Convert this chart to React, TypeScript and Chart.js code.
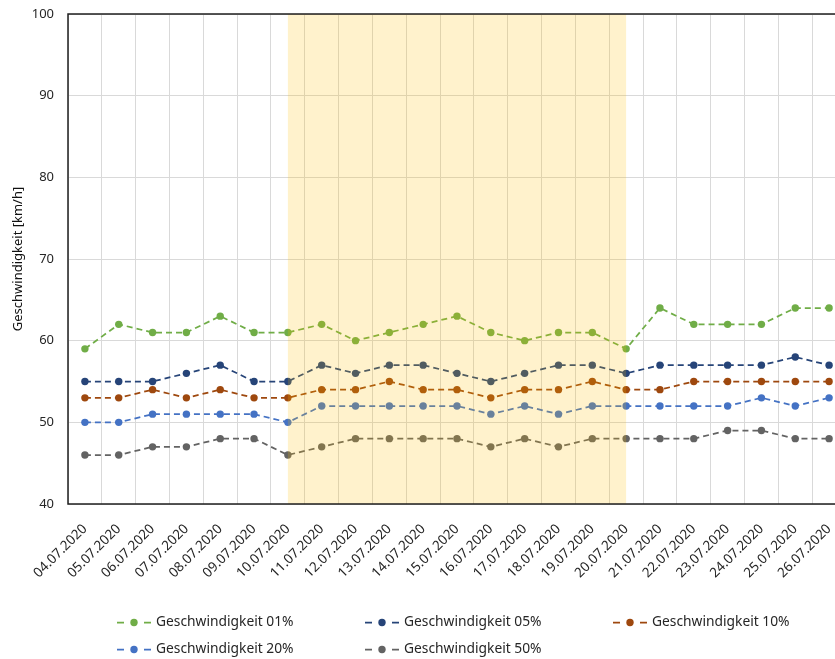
import React, { useEffect, useRef } from "react";
import { Chart, registerables } from "chart.js";

Chart.register(...registerables);

const categories = [
  "04.07.2020", "05.07.2020", "06.07.2020", "07.07.2020", "08.07.2020", "09.07.2020",
  "10.07.2020", "11.07.2020", "12.07.2020", "13.07.2020", "14.07.2020", "15.07.2020",
  "16.07.2020", "17.07.2020", "18.07.2020", "19.07.2020", "20.07.2020", "21.07.2020",
  "22.07.2020", "23.07.2020", "24.07.2020", "25.07.2020", "26.07.2020",
];

const speed01 = [59, 62, 61, 61, 63, 61, 61, 62, 60, 61, 62, 63, 61, 60, 61, 61, 59, 64, 62, 62, 62, 64, 64];
const speed05 = [55, 55, 55, 56, 57, 55, 55, 57, 56, 57, 57, 56, 55, 56, 57, 57, 56, 57, 57, 57, 57, 58, 57];
const speed10 = [53, 53, 54, 53, 54, 53, 53, 54, 54, 55, 54, 54, 53, 54, 54, 55, 54, 54, 55, 55, 55, 55, 55];
const speed20 = [50, 50, 51, 51, 51, 51, 50, 52, 52, 52, 52, 52, 51, 52, 51, 52, 52, 52, 52, 52, 53, 52, 53];
const speed50 = [46, 46, 47, 47, 48, 48, 46, 47, 48, 48, 48, 48, 47, 48, 47, 48, 48, 48, 48, 49, 49, 48, 48];

const seriesNames = [
  "Geschwindigkeit 01%",
  "Geschwindigkeit 05%",
  "Geschwindigkeit 10%",
  "Geschwindigkeit 20%",
  "Geschwindigkeit 50%",
];
const seriesColors = ["#70AD47", "#264478", "#9E480E", "#4472C4", "#636363"];
const seriesValues = [speed01, speed05, speed10, speed20, speed50];

const shadeFrom = "10.07.2020";
const shadeTo = "20.07.2020";

const yMin = 40;
const yMax = 100;
const yStep = 10;
const yTitle = "Geschwindigkeit [km/h]";

const FONT = "'Noto Sans', 'Open Sans', sans-serif";
const TEXT = "#262626";

const overlayPlugin = {
  id: "overlayFrameLegend",
  afterDatasetsDraw(chart: any) {
    const { ctx, chartArea: a, scales } = chart;
    const x = scales.x;
    const x0 = x.getPixelForValue(categories.indexOf(shadeFrom));
    const x1 = x.getPixelForValue(categories.indexOf(shadeTo));
    ctx.save();
    ctx.fillStyle = "rgba(255,192,0,0.2)";
    ctx.fillRect(x0, a.top, x1 - x0, a.bottom - a.top);
    ctx.strokeStyle = "#1f1f1f";
    ctx.lineWidth = 1.5;
    ctx.beginPath();
    ctx.moveTo(a.right, a.top);
    ctx.lineTo(a.left, a.top);
    ctx.lineTo(a.left, a.bottom);
    ctx.lineTo(a.right, a.bottom);
    ctx.stroke();
    ctx.restore();
  },
  afterDraw(chart: any) {
    const { ctx } = chart;
    ctx.save();
    chart.data.datasets.forEach((ds: any, i: number) => {
      const col = i % 3;
      const row = Math.floor(i / 3);
      const lx = 117 + col * 248;
      const ly = 622.5 + row * 27;
      ctx.strokeStyle = ds.borderColor;
      ctx.lineWidth = 1.75;
      ctx.beginPath();
      ctx.moveTo(lx, ly);
      ctx.lineTo(lx + 7, ly);
      ctx.moveTo(lx + 27, ly);
      ctx.lineTo(lx + 34, ly);
      ctx.stroke();
      ctx.fillStyle = ds.borderColor;
      ctx.beginPath();
      ctx.arc(lx + 17, ly, 3.7, 0, Math.PI * 2);
      ctx.fill();
      ctx.fillStyle = TEXT;
      ctx.font = `13.8px ${FONT}`;
      ctx.textAlign = "left";
      ctx.textBaseline = "middle";
      ctx.fillText(ds.label, lx + 39, ly);
    });
    ctx.restore();
  },
};

export default function App() {
  const canvasRef = useRef<HTMLCanvasElement | null>(null);

  useEffect(() => {
    if (!canvasRef.current) return;
    const chart = new Chart(canvasRef.current, {
      type: "line",
      data: {
        labels: categories,
        datasets: seriesValues.map((vals, i) => ({
          label: seriesNames[i],
          data: vals,
          borderColor: seriesColors[i],
          backgroundColor: seriesColors[i],
          pointBackgroundColor: seriesColors[i],
          pointBorderWidth: 0,
          pointRadius: 3.7,
          borderWidth: 1.75,
          borderDash: [6, 4],
          tension: 0,
          fill: false,
        })),
      },
      options: {
        animation: false,
        responsive: false,
        devicePixelRatio: 1,
        layout: { padding: { top: 14, right: 0, bottom: 0, left: 0 } },
        plugins: {
          legend: { display: false },
          tooltip: { enabled: false },
        },
        scales: {
          x: {
            type: "category",
            offset: true,
            grid: { offset: true, color: "#d9d9d9", lineWidth: 1, drawTicks: false },
            border: { display: false },
            ticks: {
              minRotation: 45,
              maxRotation: 45,
              autoSkip: false,
              padding: 17,
              color: TEXT,
              font: { family: FONT, size: 13.5 },
            },
            afterFit: (scale: any) => {
              scale.height = 155;
              scale.paddingLeft = 0;
              scale.paddingRight = 0;
            },
          },
          y: {
            min: yMin,
            max: yMax,
            ticks: {
              stepSize: yStep,
              padding: 14,
              color: TEXT,
              font: { family: FONT, size: 13 },
            },
            grid: { color: "#d9d9d9", lineWidth: 1, drawTicks: false },
            border: { display: false },
            title: {
              display: true,
              text: yTitle,
              color: "#111111",
              font: { family: FONT, size: 13 },
              padding: { top: 10, bottom: 4 },
            },
            afterFit: (scale: any) => {
              scale.width = 68;
              scale.paddingTop = 0;
              scale.paddingBottom = 0;
            },
          },
        },
      },
      plugins: [overlayPlugin],
    });
    return () => chart.destroy();
  }, []);

  return (
    <div
      style={{
        position: "fixed",
        left: 0,
        top: 0,
        width: 835,
        height: 659,
        overflow: "hidden",
        background: "#ffffff",
      }}
    >
      <canvas ref={canvasRef} width={850} height={659} style={{ width: 850, height: 659, display: "block" }} />
    </div>
  );
}
